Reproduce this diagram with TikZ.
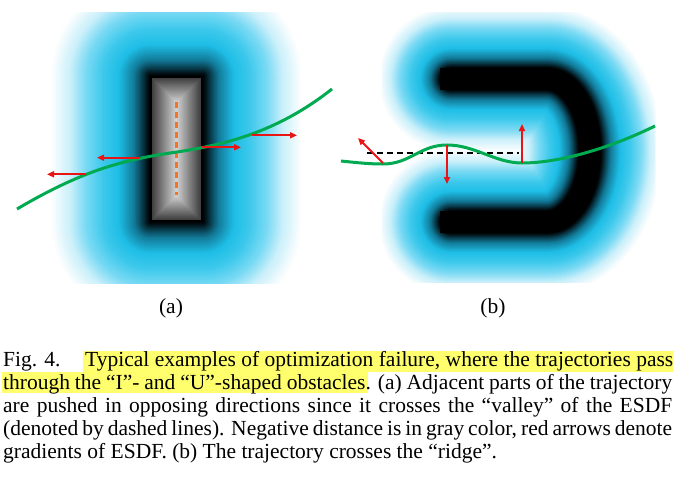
\documentclass[tikz,border=0pt]{standalone}
\usepackage{fontspec}
\setmainfont{Liberation Serif}
\usetikzlibrary{arrows.meta}

\definecolor{esdfA}{RGB}{5,35,45}
\definecolor{esdfB}{RGB}{18,120,150}
\definecolor{esdfC}{RGB}{30,190,230}
\definecolor{esdfD}{RGB}{62,201,236}
\definecolor{esdfE}{RGB}{122,218,244}
\definecolor{esdfF}{RGB}{200,239,250}
\definecolor{trajgreen}{RGB}{0,170,80}
\definecolor{gradred}{RGB}{235,20,20}
\definecolor{valleyorange}{RGB}{245,115,35}
\definecolor{hilite}{RGB}{255,255,110}

\newcommand{\esdflayers}[2]{%
  \foreach \ta/\tb/\ca/\cb in {0.8/1/esdfF/white,0.65/0.8/esdfE/esdfF,0.48/0.65/esdfD/esdfE,0.32/0.48/esdfC/esdfD,0.16/0.32/esdfB/esdfC,0.05/0.16/esdfA/esdfB,0/0.05/black/esdfA}{%
    \foreach \i in {0,...,9}{%
      \pgfmathsetmacro\dist{#1*(\tb-(\tb-\ta)*\i/10)}%
      \pgfmathtruncatemacro\p{10*\i}%
      \colorlet{esdf}{\ca!\p!\cb}%
      #2%
    }%
  }%
}

\tikzset{
  traj/.style={trajgreen, line width=3pt},
  grad/.style={gradred, line width=2pt, -{Triangle[length=7pt,width=6pt]}},
  capline/.style={anchor=base west, inner sep=0pt, font=\fontsize{21.5}{23}\selectfont},
  sublabel/.style={inner sep=0pt, font=\fontsize{21.5}{23}\selectfont}
}

\begin{document}
\begin{tikzpicture}[x=1pt,y=-1pt]
      \path[use as bounding box, fill=white] (0,0) rectangle (692,476);

      % (a) I-shaped obstacle
      \begin{scope}
        \clip (48,13) rectangle (300,283);
        \esdflayers{100}{\fill[esdf, rounded corners=\dist pt] (150-\dist,76-\dist) rectangle (203+\dist,222+\dist);}
      \end{scope}
      \foreach \k in {0,...,26}{
        \pgfmathtruncatemacro\p{80-62*\k/26}
        \fill[black!\p] (150+\k,76+\k) rectangle (203-\k,222-\k);
      }
      \draw[line width=2.5pt] (151,77) rectangle (202,221);
      \coordinate (va1) at (176.5,102);
      \coordinate (va2) at (176.5,195);
      \draw[valleyorange, line width=2.5pt, dash pattern=on 6pt off 4pt] (va1) -- (va2);
      \draw[traj] (17,209) .. controls (80,172) and (120,160) .. (177,152)
                  .. controls (230,144) and (280,130) .. (332,89);
      \coordinate (a1s) at (86,174.3);
      \coordinate (a1e) at (47,174.3);
      \coordinate (a2s) at (140,157.7);
      \coordinate (a2e) at (97,157.7);
      \coordinate (a3s) at (202,147.3);
      \coordinate (a3e) at (241,147.3);
      \coordinate (a4s) at (252,135.3);
      \coordinate (a4e) at (297,135.3);
      \draw[grad] (a1s) -- (a1e);
      \draw[grad] (a2s) -- (a2e);
      \draw[grad] (a3s) -- (a3e);
      \draw[grad] (a4s) -- (a4e);
      \node[sublabel] (laba) at (171,308) {(a)};

      % (b) U-shaped obstacle
      \begin{scope}
        \clip (382,13) rectangle (655,282);
        \esdflayers{62}{\draw[esdf, line width={22+2*\dist}, line cap=round, line join=round] (451,79) -- (547,79) arc[start angle=-90, end angle=90, x radius=43, y radius=71.5] -- (451,222);}
      \end{scope}
      \draw[line width=22pt, line join=round] (440,79) -- (547,79) arc[start angle=-90, end angle=90, x radius=43, y radius=71.5] -- (440,222);
      \coordinate (rd1) at (367,153.3);
      \coordinate (rd2) at (519,153.3);
      \draw[line width=2pt, dash pattern=on 6pt off 4pt] (rd1) -- (rd2);
      \draw[traj] (341,161) .. controls (360,163) and (370,164) .. (383,164)
                  .. controls (410,164) and (420,145) .. (447,145)
                  .. controls (475,145) and (495,163) .. (522,163)
                  .. controls (560,163) and (610,148) .. (655,126);
      \coordinate (b1s) at (383,163);
      \coordinate (b1e) at (358,138);
      \coordinate (b2s) at (447,145);
      \coordinate (b2e) at (447,184);
      \coordinate (b3s) at (522,163);
      \coordinate (b3e) at (522,124);
      \draw[grad] (b1s) -- (b1e);
      \draw[grad] (b2s) -- (b2e);
      \draw[grad] (b3s) -- (b3e);
      \node[sublabel] (labb) at (493,308) {(b)};

      % caption
      \fill[hilite] (83,351) rectangle (673,372);
      \fill[hilite] (2,372) rectangle (368,393);
      \node[capline] (fig) at (3,366.5) {Fig. 4.};
      \node[capline] (cap1) at (85,366.5) {\makebox[588pt][s]{Typical examples of optimization failure, where the trajectories pass}};
      \node[capline] (cap2) at (3,389.5) {\makebox[669pt][s]{through the “I”- and “U”-shaped obstacles. (a) Adjacent parts of the trajectory}};
      \node[capline] (cap3) at (3,412.5) {\makebox[669pt][s]{are pushed in opposing directions since it crosses the “valley” of the ESDF}};
      \node[capline] (cap4) at (3,435.5) {\makebox[669pt][s]{(denoted by dashed lines). Negative distance is in gray color, red arrows denote}};
      \node[capline] (cap5) at (3,458.5) {gradients of ESDF. (b) The trajectory crosses the “ridge”.};
\end{tikzpicture}
\end{document}
